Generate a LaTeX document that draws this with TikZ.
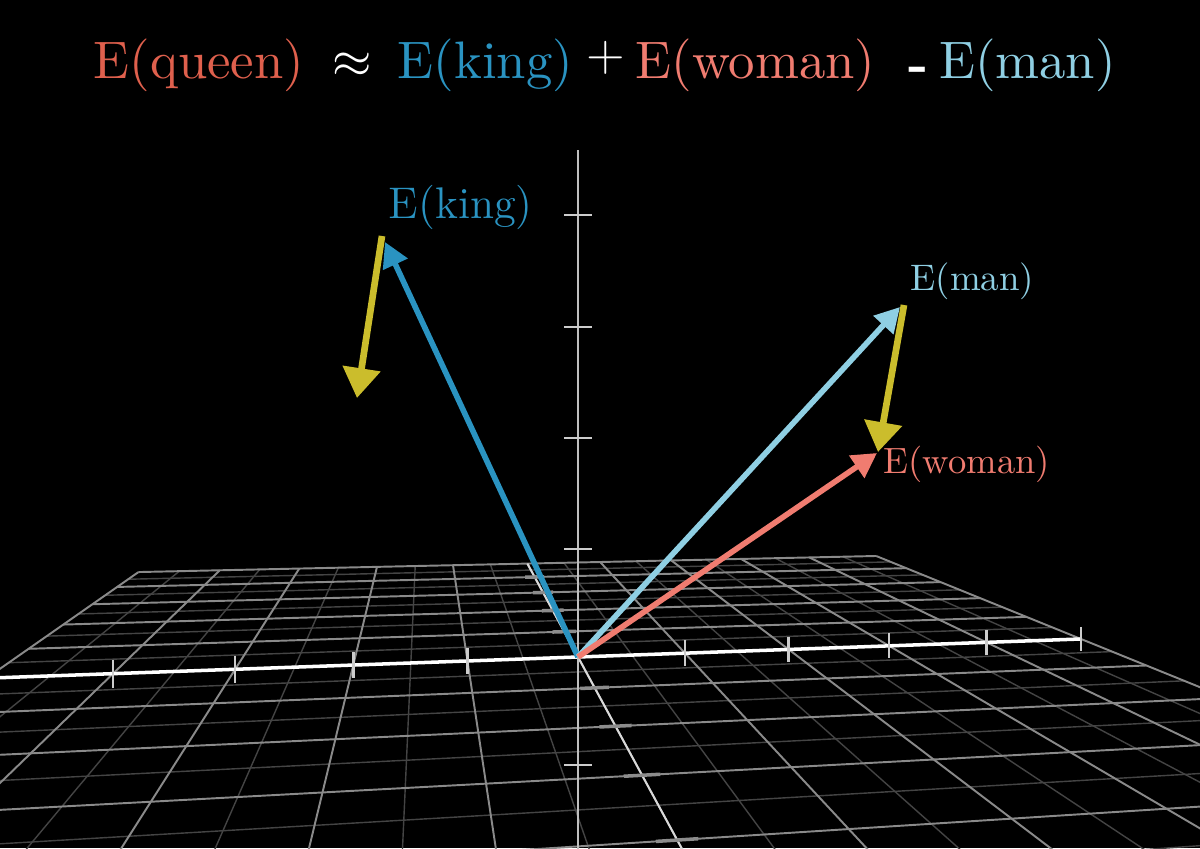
\documentclass[tikz,border=0pt]{standalone}
\usepackage{fontspec}
\newfontfamily\titlefont{lmroman10-regular}[Extension=.otf,BoldFont=lmroman10-bold]
\usetikzlibrary{arrows.meta}
\definecolor{kingblue}{HTML}{2A93C1}
\definecolor{manblue}{HTML}{8FCFE3}
\definecolor{womanred}{HTML}{F07C70}
\definecolor{queenred}{HTML}{DF604D}
\definecolor{shiftyellow}{HTML}{CBBD2C}
\definecolor{gridmajor}{HTML}{8A8A8A}
\definecolor{gridminor}{HTML}{444444}
\pgfmathdeclarefunction{flx}{2}{\pgfmathparse{(118.08*(#1)-41.5*(#2)+578)/(0.01617*(#1)-0.0979*(#2)+1)}}
\pgfmathdeclarefunction{fly}{2}{\pgfmathparse{(6.73*(#1)-36.49*(#2)+657)/(0.01617*(#1)-0.0979*(#2)+1)}}
\begin{document}
\begin{tikzpicture}[x=0.01cm,y=-0.01cm,
  majorline/.style={gridmajor,line width=0.55pt},
  minorline/.style={gridminor,line width=0.4pt},
  xaxisline/.style={white,line width=1pt},
  zaxisline/.style={white!85!black,line width=0.55pt},
  yaxisline/.style={white!75!black,line width=0.6pt},
  tickline/.style={white!80!black,line width=0.75pt},
  ztick/.style={white!55!black,line width=1pt},
  vecline/.style={line width=1.6pt,-{Triangle[length=7pt,width=7.4pt]}},
  shiftvec/.style={shiftyellow,line width=1.9pt,-{Triangle[length=8.5pt,width=10.5pt]}},
  titletext/.style={inner sep=0pt,anchor=base,font=\titlefont\fontsize{15}{18}\selectfont},
  veclabel/.style={inner sep=0pt,anchor=base west}]
\fill [black] (0,0) rectangle (1200,848);
\useasboundingbox (0,0) rectangle (1200,848);
\begin{scope}
\clip (0,0) rectangle (1200,848);
\foreach \u in {-4.5,-3.5,...,4.5}
  \draw [minorline] ({flx(\u,-5)},{fly(\u,-5)}) -- ({flx(\u,5.5)},{fly(\u,5.5)});
\foreach \w in {-4.5,-3.5,...,5.5}
  \draw [minorline] ({flx(-5,\w)},{fly(-5,\w)}) -- ({flx(5,\w)},{fly(5,\w)});
\foreach \u in {-5,-4,...,5}
  \draw [majorline] ({flx(\u,-5)},{fly(\u,-5)}) -- ({flx(\u,5.5)},{fly(\u,5.5)});
\foreach \w in {-5,-4,...,5}
  \draw [majorline] ({flx(-5,\w)},{fly(-5,\w)}) -- ({flx(5,\w)},{fly(5,\w)});
\draw [zaxisline] ({flx(0,-5)},{fly(0,-5)}) -- ({flx(0,5.5)},{fly(0,5.5)});
\foreach \w in {-4,-3,-2,-1,1,2,3,4}
  \draw [ztick] ({flx(-0.12,\w)},{fly(-0.12,\w)}) -- ({flx(0.12,\w)},{fly(0.12,\w)});
\draw [xaxisline] ({flx(-5.5,0)},{fly(-5.5,0)}) -- ({flx(5,0)},{fly(5,0)});
\foreach \u in {-4,-3,-2,-1,1,2,3,4,5}
  \draw [tickline] ({flx(\u,0)},{fly(\u,0)-13/(1+0.01617*(\u))}) -- ({flx(\u,0)},{fly(\u,0)+13/(1+0.01617*(\u))});
\draw [yaxisline] (578,150) -- (578,860);
\foreach \y in {215,327,438,549,765}
  \draw [tickline] (564,\y) -- (592,\y);
\end{scope}
\coordinate (O) at (578,657);
\coordinate (kingtip) at (385,242);
\coordinate (mantip) at (900,307);
\coordinate (womantip) at (877,453);
\coordinate (kingshift) at (382,236);
\coordinate (kingshiftend) at (357,398);
\coordinate (manshift) at (904,305);
\coordinate (manshiftend) at (878,452);
\draw [vecline,kingblue] (O) -- (kingtip);
\draw [vecline,manblue] (O) -- (mantip);
\draw [vecline,womanred] (O) -- (womantip);
\draw [shiftvec] (kingshift) -- (kingshiftend);
\draw [shiftvec] (manshift) -- (manshiftend);
\node [veclabel,text=kingblue,font=\fontsize{12.6}{14}\selectfont] (kinglabel) at (388,218) {E(king)};
\node [veclabel,text=manblue,font=\fontsize{10.5}{12}\selectfont] (manlabel) at (910,290) {E(man)};
\node [veclabel,text=womanred,font=\fontsize{10.4}{12}\selectfont] (womanlabel) at (883,473) {E(woman)};
\node [titletext,text=queenred] (tqueen) at (199,78) {E(queen)};
\node [titletext,text=white] (tapprox) at (352.5,77) {$\approx$};
\node [titletext,text=kingblue] (tking) at (485.5,78) {E(king)};
\node [titletext,text=white] (tplus) at (606,70) {$+$};
\node [titletext,text=womanred] (twoman) at (755.5,78) {E(woman)};
\node [titletext,text=white] (tminus) at (918.5,81) {\bfseries -};
\node [titletext,text=manblue] (tman) at (1027.5,78) {E(man)};
\end{tikzpicture}
\end{document}
